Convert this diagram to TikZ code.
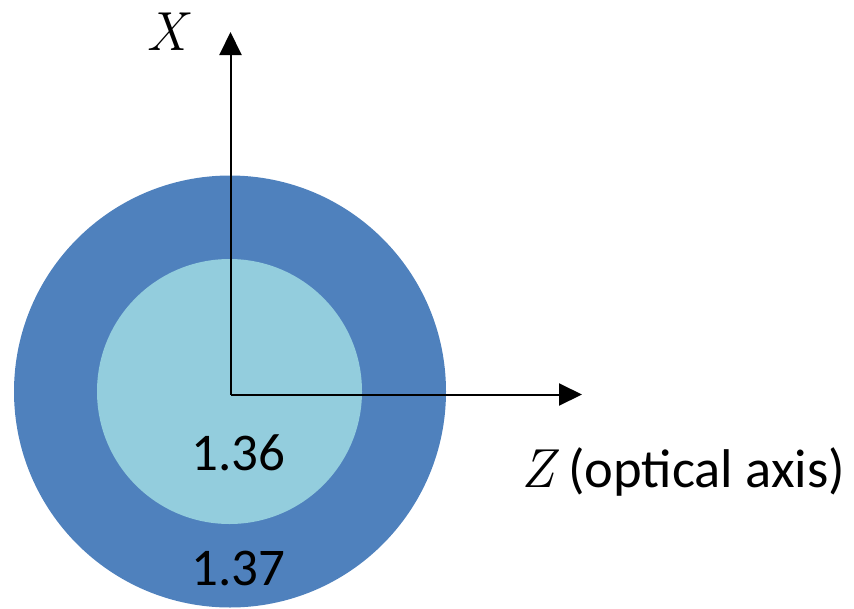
\documentclass[tikz,border=0pt]{standalone}
\usepackage{fontspec}
\newfontfamily\calib{Carlito}
\usetikzlibrary{arrows.meta}
\definecolor{outerblue}{HTML}{4F81BD}
\definecolor{innerblue}{HTML}{93CDDD}
\tikzset{
  axisline/.style={line width=2pt, -{Triangle[length=23pt,width=22pt]}},
  numlabel/.style={font=\calib\fontsize{53}{60}\selectfont, inner sep=0pt, anchor=base},
  axislabel/.style={font=\itshape\fontsize{55}{60}\selectfont, inner sep=0pt}
}
\begin{document}
\begin{tikzpicture}[x=1pt,y=-1pt]
\useasboundingbox (0,0) rectangle (854,608);
\fill[outerblue] (230,391.5) circle[radius=216];
\fill[innerblue] (229.5,391.5) circle[radius=132.5];
\coordinate (O) at (230.5,394.5);
\coordinate (xtip) at (230.5,32);
\coordinate (ztip) at (582,394.5);
\draw[axisline] (O) -- (xtip);
\draw[axisline] (O) -- (ztip);
\node[axislabel, anchor=base] (xlab) at (166,50) {X};
\node[axislabel, anchor=base west] (zlab) at (521,487) {Z\hspace{14pt}{\upshape\calib\fontsize{54.5}{60}\selectfont(optical axis)}};
\node[numlabel] (n1) at (238.5,470) {1.36};
\node[numlabel] (n2) at (238.5,585) {1.37};
\end{tikzpicture}
\end{document}
